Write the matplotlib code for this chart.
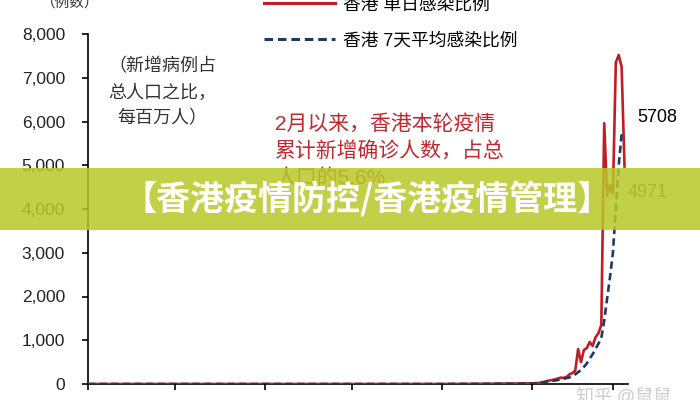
import matplotlib
matplotlib.use("Agg")
import matplotlib.pyplot as plt
import matplotlib.dates as mdates
import pandas as pd
from matplotlib.patches import Rectangle
from matplotlib.lines import Line2D
from matplotlib.ticker import StrMethodFormatter

plt.rcParams['font.family'] = ['Liberation Sans', 'Noto Sans CJK SC', 'DejaVu Sans']

# 平稳期（几乎为0）
flat_dates = pd.to_datetime(['2021-09-01', '2021-12-31', '2022-01-10', '2022-01-20', '2022-01-31'])
flat_daily = [0, 0, 3, 8, 14]
flat_avg = [0, 0, 2, 6, 11]

# 2月以来逐日数据（每百万人）
daily_dates = pd.date_range('2022-02-01', '2022-03-05')
daily_cases = [15, 18, 20, 30, 45, 60, 80, 90, 105, 125, 145, 140, 160, 220,
               250, 300, 800, 500, 780, 820, 960, 870, 1070, 1160, 1350, 5960,
               4300, 4550, 4350, 7350, 7520, 7250, 4971]
avg_dates = pd.date_range('2022-02-01', '2022-03-04')
avg_cases = [12, 15, 20, 28, 40, 50, 60, 70, 80, 90, 105, 120, 135, 150,
             180, 220, 270, 320, 390, 470, 580, 680, 800, 920, 1050, 1450,
             1950, 2450, 3000, 4000, 5000, 5708]

legend_labels = ['香港 单日感染比例', '香港 7天平均感染比例']
red = '#be1e24'
navy = '#1f3864'

fig = plt.figure(figsize=(7, 4), dpi=100)
ax = fig.add_axes([88/700, 16/400, 540/700, 350/400])

x1 = flat_dates.append(daily_dates)
y1 = flat_daily + daily_cases
x2 = flat_dates.append(avg_dates)
y2 = flat_avg + avg_cases

ax.plot(x1, y1, color=red, lw=1.9, zorder=3)
ax.plot(x2, y2, color=navy, lw=1.9, ls=(0, (2.8, 1.6)), zorder=4)

ax.set_ylim(0, 8000)
ax.set_xlim(pd.Timestamp('2021-09-01'), pd.Timestamp('2021-09-01') + pd.Timedelta(days=186.2))
ax.set_yticks(range(0, 8001, 1000))
ax.yaxis.set_major_formatter(StrMethodFormatter('{x:,.0f}'))
ax.xaxis.set_major_locator(mdates.MonthLocator())
ax.tick_params(axis='x', labelbottom=False, length=4.5, width=1.2, direction='out')
ax.tick_params(axis='y', length=4.5, width=1.2, direction='out', pad=12,
               labelsize=12.5, labelcolor='#222222')
for s in ['top', 'right']:
    ax.spines[s].set_visible(False)
for s in ['left', 'bottom']:
    ax.spines[s].set_linewidth(1.2)

handles = [Line2D([], [], color=red, lw=2.2),
           Line2D([], [], color=navy, lw=2.2, ls=(0, (2.8, 1.6)))]
ax.legend(handles, legend_labels, loc='center left', bbox_to_anchor=(264/700, 1 - 23/400),
          bbox_transform=fig.transFigure, frameon=False, fontsize=12.8,
          handlelength=4.0, handletextpad=0.45, labelspacing=1.05,
          borderpad=0, borderaxespad=0)

# 注释
note = ['（新增病例占', '总人口之比，', '每百万人）']
for i, t in enumerate(note):
    fig.text(162/700, 1 - (67 + 26*i)/400, t, ha='center', va='center',
             fontsize=13, color='#333333', zorder=5)

red_note = ['2月以来，香港本轮疫情', '累计新增确诊人数，占总', '人口的5.6%']
for i, t in enumerate(red_note):
    fig.text(275/700, 1 - (124 + 27*i)/400, t, ha='left', va='center',
             fontsize=15, color='#c0282d', zorder=5)

fig.text(637/700, 1 - 118/400, '5708', ha='left', va='center', fontsize=13,
         color='black', zorder=5)
fig.text(628/700, 1 - 193/400, '4971', ha='left', va='center', fontsize=13,
         color='#555555', zorder=5)

fig.text(70/700, 1 - 3/400, '（例数）', ha='center', va='center', fontsize=10.5,
         color='#333333', zorder=5)

# 标题横幅
fig.add_artist(Rectangle((0, 170/400), 1, 62/400, transform=fig.transFigure,
                         facecolor='#b8c828', edgecolor='none', alpha=0.85, zorder=10))
fig.text(367/700, 1 - 199/400, '【香港疫情防控/香港疫情管理】', ha='center', va='center',
         fontsize=24.5, fontweight='heavy', color='white', zorder=11,
         family=['Noto Sans CJK SC', 'DejaVu Sans'])

fig.text(576/700, 1 - 388/400, '知乎 @鼠鼠', ha='left', va='top', fontsize=13,
         color='#cccccc', zorder=11)

fig.savefig('out.png', dpi=100)
